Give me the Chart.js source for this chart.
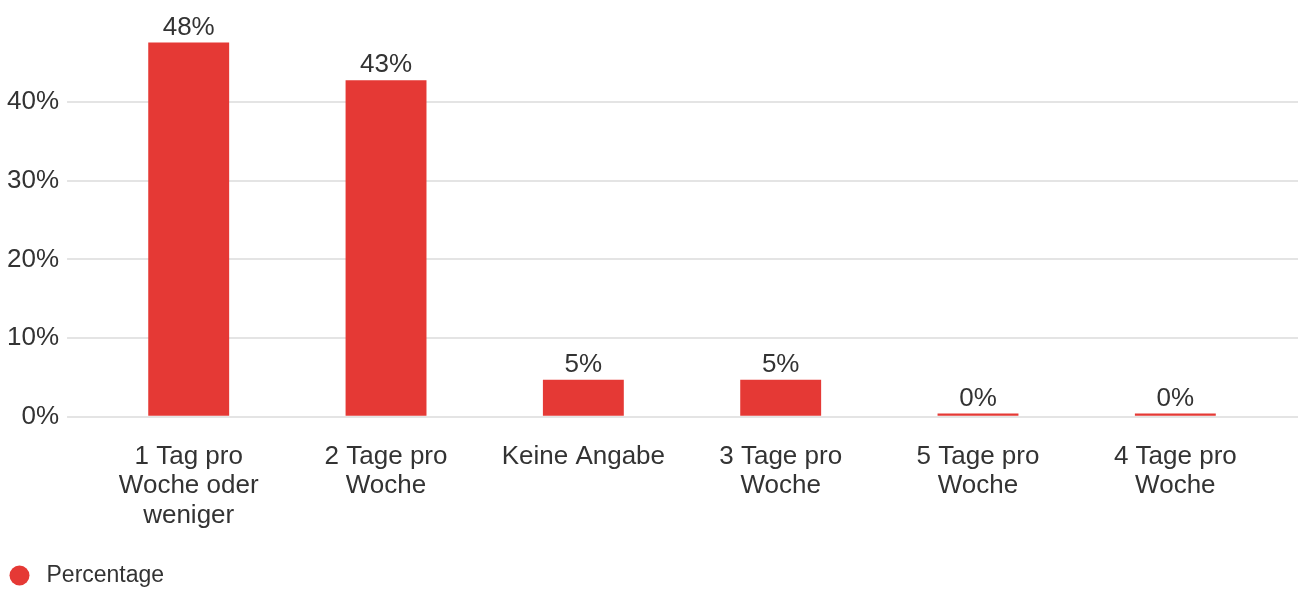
<!DOCTYPE html>
<html lang="de">
<head>
  <meta charset="UTF-8">
  <script src="https://cdn.jsdelivr.net/npm/chart.js"></script>
  <title>Tage pro Woche</title>
</head>
<style>
  body{
    margin: 0;
    background: #fff;
  }
  .container{
    width: 1301px;
    height: 590px;
  }
</style>
<body>
  <div class="container">
    <canvas id="barchart"></canvas>
  </div>
  <script>
    const categories = [
      ['1 Tag pro', 'Woche oder', 'weniger'],
      ['2 Tage pro', 'Woche'],
      'Keine Angabe',
      ['3 Tage pro', 'Woche'],
      ['5 Tage pro', 'Woche'],
      ['4 Tage pro', 'Woche']
    ];
    const percentage = [47.6, 42.8, 4.7, 4.7, 0.4, 0.4];
    const yTicks = [0, 10, 20, 30, 40];

    const barColor = '#e53935';
    const textColor = '#333333';
    const gridColor = '#e4e4e4';
    const fontFamily = "'Liberation Sans', Arial, sans-serif";

    // round legend marker
    const dot = document.createElement('canvas');
    dot.width = 21;
    dot.height = 21;
    const dctx = dot.getContext('2d');
    dctx.fillStyle = barColor;
    dctx.beginPath();
    dctx.arc(10.5, 10.5, 10, 0, Math.PI * 2);
    dctx.fill();

    // value labels above the bars
    const barLabels = {
      id: 'barLabels',
      afterDatasetsDraw(chart) {
        const ctx = chart.ctx;
        const meta = chart.getDatasetMeta(0);
        ctx.save();
        ctx.font = '26px ' + fontFamily;
        ctx.fillStyle = textColor;
        ctx.textAlign = 'center';
        ctx.textBaseline = 'bottom';
        meta.data.forEach(function (bar, i) {
          ctx.fillText(Math.round(percentage[i]) + '%', bar.x, bar.y - 2);
        });
        ctx.restore();
      }
    };

    const keepTicks = function (axis) {
      axis.ticks = yTicks.map(v => ({ value: v }));
    };

    const data = {
      labels: categories,
      datasets: [{
        label: 'Percentage',
        data: percentage,
        backgroundColor: barColor,
        borderWidth: 0,
        pointStyle: dot,
        barPercentage: 0.41,
        categoryPercentage: 1
      }]
    };

    let config = {
      type: 'bar',
      data,
      options: {
        responsive: true,
        maintainAspectRatio: false,
        animation: false,
        layout: {
          padding: { top: 21, left: -1, right: 3, bottom: -7 }
        },
        scales: {
          x: {
            grid: { display: false },
            border: { display: false },
            ticks: {
              color: textColor,
              padding: 18,
              maxRotation: 0,
              autoSkip: false,
              font: { family: fontFamily, size: 26, lineHeight: 1.12 }
            },
            afterFit(scale) { scale.height += 11; }
          },
          y: {
            min: 0,
            max: 50,
            afterBuildTicks: keepTicks,
            border: { display: false },
            grid: { color: gridColor, lineWidth: 2, tickLength: 23, tickColor: gridColor },
            ticks: {
              color: textColor,
              padding: 8,
              font: { family: fontFamily, size: 26 },
              callback: v => v + '%'
            }
          },
          y2: {
            position: 'right',
            min: 0,
            max: 50,
            afterBuildTicks: keepTicks,
            border: { display: false },
            grid: { drawOnChartArea: false, color: gridColor, lineWidth: 2, tickLength: 24, tickColor: gridColor },
            ticks: { display: false }
          }
        },
        plugins: {
          tooltip: { enabled: false },
          legend: {
            position: 'bottom',
            align: 'start',
            labels: {
              usePointStyle: true,
              pointStyleWidth: 31,
              boxHeight: 14,
              color: textColor,
              padding: 5,
              font: { family: fontFamily, size: 23 }
            }
          }
        }
      },
      plugins: [barLabels]
    };

    const mychart = new Chart(
      document.getElementById('barchart'),
      config
    );
  </script>
</body>
</html>
